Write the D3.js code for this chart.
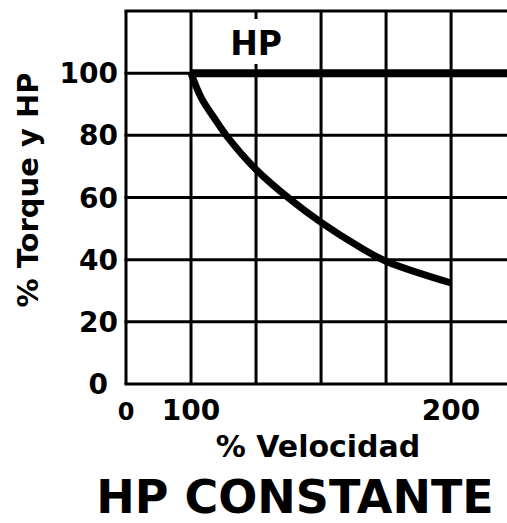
<!DOCTYPE html>
<html>
<head>
<meta charset="utf-8">
<script src="https://cdn.jsdelivr.net/npm/d3@7"></script>
<style>
  body { margin: 0; background: #fff; }
  svg { display: block; font-family: "DejaVu Sans", Verdana, sans-serif; font-weight: bold; }
</style>
</head>
<body>
<div id="vis"></div>
<script>
// values
const xGrid = [75, 100, 125, 150, 175, 200];
const xTickVals = [75, 100, 200];
const xTickLabels = ["0", "100", "200"];
const yGrid = [0, 20, 40, 60, 80, 100, 120];
const yTickVals = [0, 20, 40, 60, 80, 100];

// HP stays flat from base speed on
const hpSpeed = [100, 221.5];
const hpValue = [100, 100];

// torque falls off above base speed
const torqueSpeed = [100, 104, 109, 114, 125, 138, 150, 165, 175, 200];
const torqueValue = [100, 92, 85.5, 79.5, 69, 59.5, 52, 44, 39.5, 32.5];

const W = 507, H = 523;

let svg = d3.select("#vis").append("svg")
  .attr("width", W)
  .attr("height", H);

let x = d3.scaleLinear().domain([75, 221.5]).range([126, 507]);
let y = d3.scaleLinear().domain([0, 120]).range([384, 11]);

// vertical grid
svg.append("g")
  .selectAll("line")
  .data(xGrid)
  .join("line")
  .attr("x1", d => x(d)).attr("x2", d => x(d))
  .attr("y1", y(0)).attr("y2", y(120))
  .attr("stroke", "#000")
  .attr("stroke-width", 3);

// horizontal grid
svg.append("g")
  .selectAll("line")
  .data(yGrid)
  .join("line")
  .attr("x1", x(75) - 1.5).attr("x2", W)
  .attr("y1", d => y(d)).attr("y2", d => y(d))
  .attr("stroke", "#000")
  .attr("stroke-width", 3);

// y tick labels
svg.append("g")
  .selectAll("text")
  .data(yTickVals)
  .join("text")
  .attr("x", d => d === 0 ? x(75) - 18 : x(75) - 8)
  .attr("y", d => y(d))
  .attr("dy", "0.36em")
  .attr("text-anchor", "end")
  .attr("font-size", 28)
  .text(d => d);

// x tick labels
svg.append("g")
  .selectAll("text")
  .data(xTickVals)
  .join("text")
  .attr("x", d => x(d))
  .attr("y", 420)
  .attr("text-anchor", "middle")
  .attr("font-size", d => d === 75 ? 24 : 28)
  .text((d, i) => xTickLabels[i]);

// white box behind the HP label
svg.append("rect")
  .attr("x", 229).attr("y", 19)
  .attr("width", 56).attr("height", 45)
  .attr("fill", "#fff");

svg.append("text")
  .attr("x", x(125))
  .attr("y", 55)
  .attr("text-anchor", "middle")
  .attr("font-size", 33)
  .text("HP");

let line = d3.line()
  .x(d => x(d[0]))
  .y(d => y(d[1]))
  .curve(d3.curveCatmullRom.alpha(0.5));

svg.append("path")
  .datum(d3.zip(hpSpeed, hpValue))
  .attr("d", line)
  .attr("fill", "none")
  .attr("stroke", "#000")
  .attr("stroke-width", 8);

svg.append("path")
  .datum(d3.zip(torqueSpeed, torqueValue))
  .attr("d", line)
  .attr("fill", "none")
  .attr("stroke", "#000")
  .attr("stroke-width", 7)
  .attr("stroke-linejoin", "round");

// axis titles
svg.append("text")
  .attr("transform", "translate(38,190) rotate(-90)")
  .attr("text-anchor", "middle")
  .attr("font-size", 29)
  .text("% Torque y HP");

svg.append("text")
  .attr("x", 318)
  .attr("y", 457)
  .attr("text-anchor", "middle")
  .attr("font-size", 30)
  .text("% Velocidad");

svg.append("text")
  .attr("x", 295)
  .attr("y", 513)
  .attr("text-anchor", "middle")
  .attr("font-size", 46)
  .text("HP CONSTANTE");
</script>
</body>
</html>
